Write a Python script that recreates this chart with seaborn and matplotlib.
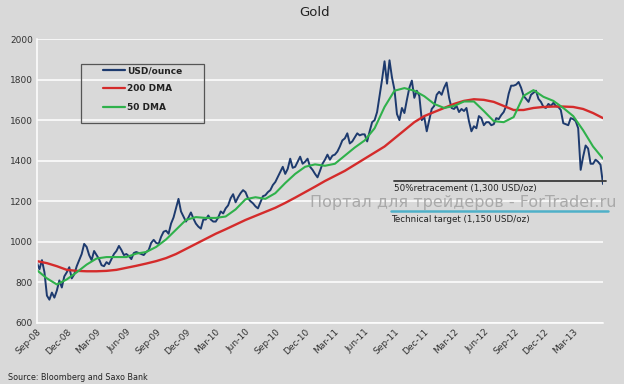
import matplotlib
matplotlib.use("Agg")
import matplotlib.pyplot as plt
from matplotlib.lines import Line2D
from matplotlib.patches import Rectangle
import pandas as pd
import seaborn as sns

# ---------------- data ----------------
START = "2008-09-22"
END = "2013-06-21"

# gold price, USD/ounce (about 4 readings per month)
price = [
    895, 865, 910, 850,   735, 715, 750, 725,   760, 810, 775, 830,
    850, 875, 820, 840,   880, 910, 940, 990,   975, 935, 910, 955,
    935, 915, 885, 880,   900, 890, 915, 940,   955, 980, 960, 935,
    940, 930, 915, 945,   950, 945, 940, 935,   950, 960, 995, 1010,
    995, 990, 1025, 1050, 1055, 1040, 1090, 1120, 1165, 1212, 1150, 1125,
    1100, 1120, 1145, 1115, 1090, 1075, 1065, 1110, 1110, 1130, 1110, 1100,
    1100, 1120, 1150, 1140, 1165, 1180, 1215, 1235, 1195, 1220, 1240, 1255,
    1245, 1215, 1200, 1190, 1175, 1165, 1195, 1225, 1230, 1245, 1255, 1280,
    1295, 1320, 1345, 1370, 1335, 1360, 1410, 1365, 1370, 1395, 1420, 1385,
    1395, 1410, 1370, 1355, 1335, 1318, 1350, 1385, 1405, 1430, 1405, 1425,
    1430, 1445, 1470, 1500, 1510, 1535, 1485, 1495, 1515, 1535, 1525, 1530,
    1530, 1495, 1545, 1590, 1600, 1640, 1720, 1800, 1890, 1780, 1895, 1810,
    1750, 1630, 1600, 1660, 1635, 1700, 1760, 1795, 1710, 1745, 1720, 1600,
    1615, 1545, 1600, 1655, 1670, 1725, 1740, 1725, 1760, 1785, 1710, 1660,
    1655, 1670, 1640, 1655, 1645, 1660, 1595, 1545, 1570, 1560, 1620, 1610,
    1575, 1590, 1590, 1575, 1580, 1610, 1605, 1625, 1640, 1670, 1730, 1770,
    1770, 1775, 1788, 1760, 1720, 1705, 1690, 1725, 1735, 1745, 1705, 1690,
    1665, 1660, 1680, 1670, 1685, 1670, 1665, 1650, 1585, 1580, 1575, 1610,
    1605, 1595, 1560, 1355, 1420, 1475, 1460, 1385, 1385, 1405, 1395, 1380,
    1285,
]

# 200-day moving average (monthly readings)
dma200 = [
    905, 895, 880, 862, 857, 855, 855, 857, 862, 872,
    882, 893, 905, 920, 940, 965, 990, 1015, 1040, 1062,
    1085, 1108, 1128, 1148, 1168, 1192, 1218, 1245, 1272, 1300,
    1325, 1350, 1380, 1410, 1440, 1470, 1510, 1550, 1590, 1620,
    1640, 1660, 1680, 1695, 1703, 1700, 1690, 1670, 1650, 1650,
    1660, 1665, 1667, 1667, 1665, 1655, 1635, 1610,
]

# 50-day moving average (monthly readings)
dma50 = [
    860, 820, 790, 815, 850, 888, 918, 925, 925, 925,
    942, 950, 975, 1012, 1060, 1108, 1122, 1118, 1118, 1125,
    1160, 1210, 1220, 1212, 1240, 1290, 1335, 1370, 1382, 1375,
    1385, 1425, 1465, 1500, 1560, 1665, 1745, 1758, 1745, 1718,
    1680, 1660, 1670, 1692, 1692, 1645, 1595, 1590, 1615, 1720,
    1748, 1715, 1695, 1660, 1620, 1550, 1470, 1410,
]

tick_labels = ["Sep-08", "Dec-08", "Mar-09", "Jun-09", "Sep-09", "Dec-09",
               "Mar-10", "Jun-10", "Sep-10", "Dec-10", "Mar-11", "Jun-11",
               "Sep-11", "Dec-11", "Mar-12", "Jun-12", "Sep-12", "Dec-12",
               "Mar-13"]
y_ticks = [600, 800, 1000, 1200, 1400, 1600, 1800, 2000]
retracement = 1300
target = 1150

series_names = ["USD/ounce", "200 DMA", "50 DMA"]
colors = {"USD/ounce": "#1d3a6e", "200 DMA": "#d42b2b", "50 DMA": "#2fb14b"}

# ---------------- figure ----------------
BG = "#d9d9d9"
sns.set_theme(style="white")
plt.rcParams["font.family"] = ["DejaVu Sans"]

fig = plt.figure(figsize=(6.24, 3.84), dpi=100, facecolor=BG)
ax = fig.add_axes([37 / 624, 61 / 384, 566 / 624, 284 / 384])
ax.set_facecolor(BG)

d_price = pd.date_range(START, END, periods=len(price))
d_dma = pd.date_range(START, END, periods=len(dma200))
df_price = pd.DataFrame({"date": d_price, "value": price})
df_200 = pd.DataFrame({"date": d_dma, "value": dma200})
df_50 = pd.DataFrame({"date": d_dma, "value": dma50})

sns.lineplot(data=df_price, x="date", y="value", ax=ax,
             color=colors["USD/ounce"], lw=1.4)
sns.lineplot(data=df_200, x="date", y="value", ax=ax,
             color=colors["200 DMA"], lw=1.7)
sns.lineplot(data=df_50, x="date", y="value", ax=ax,
             color=colors["50 DMA"], lw=1.5)

ax.set_xlim(pd.Timestamp(START), pd.Timestamp(END))
ax.set_ylim(600, 2000)
ax.set_yticks(y_ticks)
ax.set_yticklabels([str(v) for v in y_ticks], fontsize=6.5, color="#333333")
ax.yaxis.grid(True, color="white", lw=1.1)
ax.set_axisbelow(True)

tick_dates = pd.date_range(START, periods=len(tick_labels),
                           freq=pd.DateOffset(months=3))
ax.set_xticks(tick_dates)
ax.set_xticklabels(tick_labels, rotation=45, ha="right",
                   rotation_mode="anchor", fontsize=6.5, color="#333333")
ax.tick_params(axis="both", length=0, pad=3)
ax.set_xlabel("")
ax.set_ylabel("")

for side in ["top", "right"]:
    ax.spines[side].set_visible(False)
for side in ["left", "bottom"]:
    ax.spines[side].set_color("white")
    ax.spines[side].set_linewidth(1.1)

# reference lines with labels
ax.axhline(retracement, xmin=0.631, xmax=1.005, color="#3a3a3a", lw=1.3,
           clip_on=False)
ax.annotate("50%retracement (1,300 USD/oz)", xy=(0.631, retracement),
            xycoords=("axes fraction", "data"), xytext=(0, -2),
            textcoords="offset points", ha="left", va="top",
            fontsize=6.3, color="#222222")
ax.axhline(target, xmin=0.626, xmax=1.008, color="#4fb0c8", lw=1.8,
           clip_on=False)
ax.annotate("Technical target (1,150 USD/oz)", xy=(0.626, target),
            xycoords=("axes fraction", "data"), xytext=(0, -2.5),
            textcoords="offset points", ha="left", va="top",
            fontsize=6.3, color="#222222")

# legend with separate frame
handles = [Line2D([0], [0], color=colors[n], lw=1.6) for n in series_names]
leg = ax.legend(handles, series_names, loc="upper left", frameon=False,
                bbox_to_anchor=((103 - 37) / 566, (323 - 66) / 284),
                fontsize=6.5, handlelength=2.4, handletextpad=0.25,
                labelspacing=1.05, borderpad=0, borderaxespad=0)
for t in leg.get_texts():
    t.set_fontweight("bold")
    t.set_color("#222222")
fig.patches.append(Rectangle((81 / 624, 1 - 123 / 384), 123 / 624, 59 / 384,
                             transform=fig.transFigure, facecolor="none",
                             edgecolor="#555555", lw=0.9))

# texts
fig.text(315 / 624, 1 - 13 / 384, "Gold", ha="center", va="center",
         fontsize=9.5, color="#222222")
fig.text(8 / 624, 1 - 377 / 384, "Source: Bloomberg and Saxo Bank",
         ha="left", va="center", fontsize=5.8, color="#222222")
fig.text(463 / 624, 1 - 203 / 384, "Портал для трейдеров - ForTrader.ru",
         ha="center", va="center", fontsize=11.5, color="#a9a9a9")

fig.savefig("out.png", dpi=100, facecolor=BG)
